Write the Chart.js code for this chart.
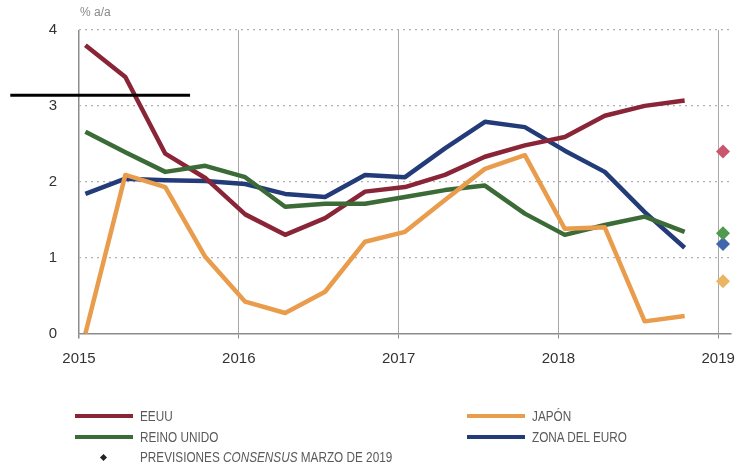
<!DOCTYPE html>
<html>
<head>
<meta charset="utf-8">
<script src="https://cdn.jsdelivr.net/npm/chart.js@4.4.1/dist/chart.umd.min.js"></script>
<style>
  html, body { margin: 0; padding: 0; background: #ffffff; }
  #wrap { position: relative; width: 741px; height: 468px; overflow: hidden; }
  #c { position: absolute; left: 0; top: 0; }
  .unit { position: absolute; left: 80px; top: 5px; font: 12px "Liberation Sans", Arial, sans-serif; color: #8a8a8a; }
  .leg { position: absolute; font-family: "Liberation Sans", Arial, sans-serif; font-size: 14px; color: #5a5a5a; line-height: 16px; white-space: nowrap; transform: scaleX(0.84); transform-origin: left center; }
  .sw { position: absolute; height: 4px; width: 58px; }
  .dot { position: absolute; width: 5px; height: 5px; background: #222; transform: rotate(45deg); }
</style>
</head>
<body>
<div id="wrap">
  <canvas id="c" width="741" height="468"></canvas>
  <div class="unit">% a/a</div>
  <div id="legend"></div>
</div>
<script>
// ---- Data ----
const periods = ['2015T1','2015T2','2015T3','2015T4','2016T1','2016T2','2016T3','2016T4',
                 '2017T1','2017T2','2017T3','2017T4','2018T1','2018T2','2018T3','2018T4'];
const periodX = [2015.04, 2015.29, 2015.54, 2015.79, 2016.04, 2016.29, 2016.54, 2016.79,
                 2017.04, 2017.29, 2017.54, 2017.79, 2018.04, 2018.29, 2018.54, 2018.79];
const yearTicks = [2015, 2016, 2017, 2018, 2019];

const seriesNames = ['EEUU', 'JAPÓN', 'REINO UNIDO', 'ZONA DEL EURO'];
const eeuu      = [3.80, 3.38, 2.37, 2.05, 1.57, 1.30, 1.52, 1.87, 1.93, 2.09, 2.33, 2.48, 2.59, 2.87, 3.00, 3.07];
const japon     = [0.00, 2.09, 1.93, 1.01, 0.42, 0.27, 0.55, 1.21, 1.34, 1.76, 2.17, 2.35, 1.38, 1.40, 0.16, 0.23];
const reinoUnido= [2.66, 2.39, 2.13, 2.21, 2.06, 1.67, 1.71, 1.71, 1.80, 1.89, 1.95, 1.58, 1.30, 1.43, 1.54, 1.34];
const zonaEuro  = [1.84, 2.04, 2.02, 2.01, 1.97, 1.84, 1.80, 2.09, 2.06, 2.44, 2.79, 2.72, 2.41, 2.13, 1.60, 1.13];

// Consensus forecasts, March 2019 (drawn at 2019)
const forecastX = 2019.03;
const forecastEEUU = 2.40;
const forecastJapon = 0.69;
const forecastReinoUnido = 1.32;
const forecastZonaEuro = 1.18;
const forecastLabel = 'PREVISIONES ';
const forecastLabelItalic = 'CONSENSUS';
const forecastLabelEnd = ' MARZO DE 2019';

// Black stroke across the upper-left of the picture (value level and extent)
const markLevel = 3.14;
const markFrom = 2014.57;
const markTo = 2015.695;

// ---- Styles ----
const colors = {
  'EEUU': '#8a2538',
  'JAPÓN': '#e89c4c',
  'REINO UNIDO': '#3b6b37',
  'ZONA DEL EURO': '#233b78'
};
const diamondColors = {
  'EEUU': '#c8566d',
  'JAPÓN': '#ebb462',
  'REINO UNIDO': '#4f9a4c',
  'ZONA DEL EURO': '#4066ab'
};
const seriesValues = { 'EEUU': eeuu, 'JAPÓN': japon, 'REINO UNIDO': reinoUnido, 'ZONA DEL EURO': zonaEuro };
const forecasts = { 'EEUU': forecastEEUU, 'JAPÓN': forecastJapon, 'REINO UNIDO': forecastReinoUnido, 'ZONA DEL EURO': forecastZonaEuro };

const drawOrder = ['JAPÓN', 'REINO UNIDO', 'EEUU', 'ZONA DEL EURO'];
const datasets = [];
drawOrder.forEach(name => {
  datasets.push({
    type: 'line',
    label: name,
    data: periodX.map((x, i) => ({ x: x, y: seriesValues[name][i] })),
    borderColor: colors[name],
    backgroundColor: colors[name],
    borderWidth: 4.5,
    pointRadius: 0,
    tension: 0,
    borderJoinStyle: 'round',
    clip: 6
  });
});
drawOrder.forEach(name => {
  datasets.push({
    type: 'scatter',
    label: name + ' previsión',
    data: [{ x: forecastX, y: forecasts[name] }],
    pointStyle: 'rectRot',
    pointRadius: 7,
    backgroundColor: diamondColors[name],
    borderColor: diamondColors[name],
    borderWidth: 0,
    clip: false
  });
});

const strokePlugin = {
  id: 'stroke',
  afterDatasetsDraw(chart) {
    const ctx = chart.ctx;
    const xs = chart.scales.x, ys = chart.scales.y;
    ctx.save();
    ctx.strokeStyle = '#000';
    ctx.lineWidth = 3;
    ctx.beginPath();
    ctx.moveTo(xs.getPixelForValue(markFrom), ys.getPixelForValue(markLevel));
    ctx.lineTo(xs.getPixelForValue(markTo), ys.getPixelForValue(markLevel));
    ctx.stroke();
    ctx.restore();
  }
};

new Chart(document.getElementById('c'), {
  data: { datasets: datasets },
  options: {
    responsive: false,
    animation: false,
    events: [],
    layout: { padding: { top: 30, right: 10, left: 0, bottom: 0 } },
    plugins: { legend: { display: false }, tooltip: { enabled: false } },
    scales: {
      x: {
        type: 'linear',
        min: 2015,
        max: 2019.08,
        afterFit(scale) { scale.height = 134.5; scale.paddingRight = 0; scale.paddingLeft = 0; },
        afterBuildTicks(scale) { scale.ticks = yearTicks.map(v => ({ value: v })); },
        ticks: {
          includeBounds: false,
          autoSkip: false,
          maxRotation: 0,
          padding: 11,
          color: '#333',
          font: { family: '"Liberation Sans", Arial, sans-serif', size: 15 },
          callback: v => String(v)
        },
        grid: {
          color: ctx => (ctx.tick && ctx.tick.value === 2015) ? '#8c8c8c' : '#a8a8a8',
          lineWidth: ctx => (ctx.tick && ctx.tick.value === 2015) ? 1.5 : 1,
          tickLength: 5,
          drawTicks: true,
          tickColor: '#888'
        },
        border: { display: true, color: '#8c8c8c', width: 1.5 }
      },
      y: {
        min: 0,
        max: 4,
        afterFit(scale) { scale.width = 79; scale.paddingTop = 0; scale.paddingBottom = 0; },
        ticks: {
          stepSize: 1,
          padding: 22,
          color: '#333',
          font: { family: '"Liberation Sans", Arial, sans-serif', size: 15 }
        },
        grid: {
          color: ctx => (ctx.tick && ctx.tick.value === 0) ? 'rgba(0,0,0,0)' : '#b0b0b0',
          lineWidth: 1.3,
          tickLength: 0,
          drawTicks: false
        },
        border: { display: false, dash: [2, 4] }
      }
    }
  },
  plugins: [strokePlugin]
});

// ---- Legend (HTML, built from the series names) ----
const legend = document.getElementById('legend');
const legendSlots = [
  { name: 'EEUU',          left: 75,  top: 416 },
  { name: 'JAPÓN',         left: 467, top: 416 },
  { name: 'REINO UNIDO',   left: 75,  top: 437 },
  { name: 'ZONA DEL EURO', left: 467, top: 437 }
];
legendSlots.forEach(s => {
  const sw = document.createElement('div');
  sw.className = 'sw';
  sw.style.left = s.left + 'px';
  sw.style.top = (s.top - 2) + 'px';
  sw.style.background = colors[s.name];
  legend.appendChild(sw);
  const t = document.createElement('div');
  t.className = 'leg';
  t.style.left = (s.left + 65) + 'px';
  t.style.top = (s.top - 8) + 'px';
  t.textContent = s.name;
  legend.appendChild(t);
});
const dot = document.createElement('div');
dot.className = 'dot';
dot.style.left = '101px';
dot.style.top = '455px';
legend.appendChild(dot);
const fl = document.createElement('div');
fl.className = 'leg';
fl.style.left = '140px';
fl.style.top = '449px';
fl.innerHTML = forecastLabel + '<i>' + forecastLabelItalic + '</i>' + forecastLabelEnd;
legend.appendChild(fl);
</script>
</body>
</html>
